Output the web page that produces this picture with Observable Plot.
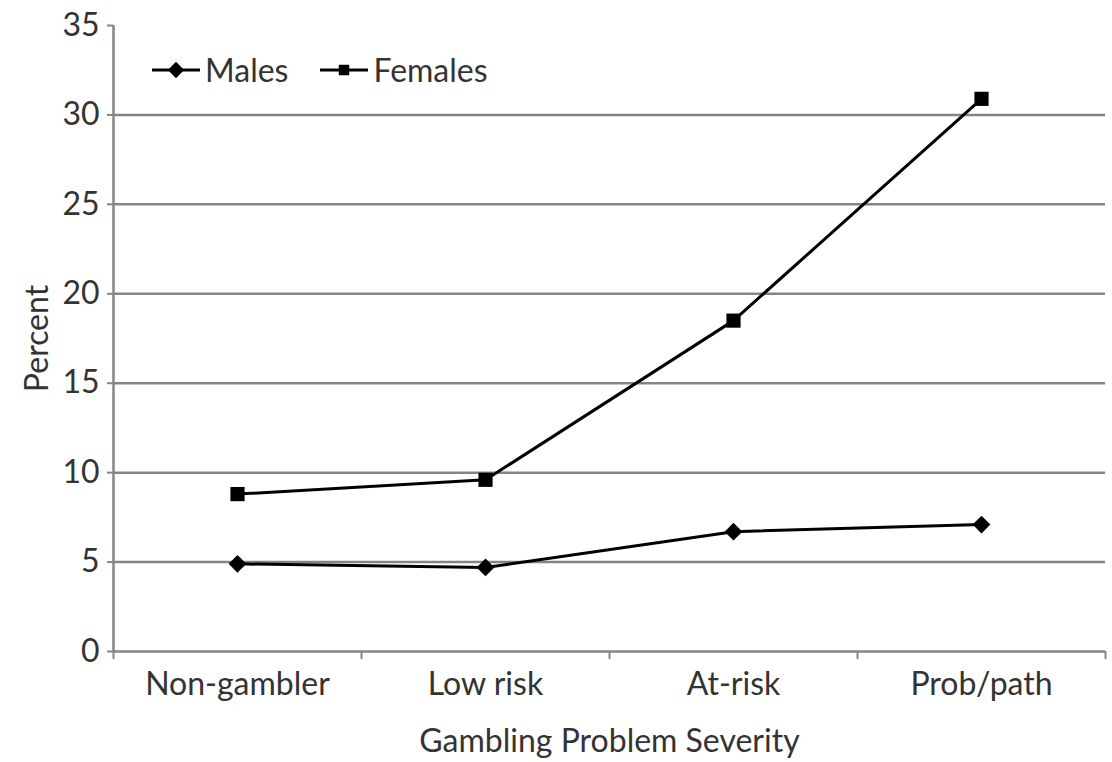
<!DOCTYPE html>
<html>
<head>
<meta charset="utf-8">
<script src="https://cdn.jsdelivr.net/npm/d3@7"></script>
<script src="https://cdn.jsdelivr.net/npm/@observablehq/plot@0.6"></script>
<style>
  body { margin: 0; background: white; }
  #wrap { position: relative; width: 1112px; height: 762px; }
  #legend { position: absolute; left: 152px; top: 50px; display: flex; align-items: center; font-family: Lato, sans-serif; font-size: 32px; color: #333; }
  #legend .item { display: flex; align-items: center; margin-right: 32px; }
  #legend svg { margin-right: 5px; }
</style>
</head>
<body>
<div id="wrap"></div>
<script>
const categories = ["Non-gambler", "Low risk", "At-risk", "Prob/path"];
const males = [4.9, 4.7, 6.7, 7.1];
const females = [8.8, 9.6, 18.5, 30.9];
const yTicks = [0, 5, 10, 15, 20, 25, 30, 35];
const seriesNames = ["Males", "Females"];
const seriesSymbols = ["diamond2", "square"];

const data = [];
categories.forEach((c, i) => {
  data.push({series: "Males", idx: i + 0.5, value: males[i]});
  data.push({series: "Females", idx: i + 0.5, value: females[i]});
});
const centers = categories.map((c, i) => i + 0.5);
const bounds = d3.range(categories.length + 1);

const grid = "#858585";
const chart = Plot.plot({
  width: 1112,
  height: 762,
  marginLeft: 113,
  marginRight: 7,
  marginTop: 25,
  marginBottom: 111,
  style: {fontFamily: "Lato, sans-serif", fontSize: "32px", color: "#333", background: "white"},
  x: {domain: [0, categories.length]},
  y: {domain: [0, 35]},
  symbol: {domain: seriesNames, range: seriesSymbols},
  marks: [
    Plot.ruleY(yTicks.filter(d => d > 0 && d < 35), {stroke: grid, strokeWidth: 2.5}),
    Plot.ruleY([0], {stroke: grid, strokeWidth: 2.5}),
    Plot.ruleX([0], {stroke: grid, strokeWidth: 2.5}),
    Plot.axisY({ticks: yTicks, tickSize: 6, tickPadding: 8, stroke: grid, strokeWidth: 2, label: "Percent", labelArrow: "none", labelAnchor: "center", labelOffset: 88}),
    Plot.axisX({ticks: bounds, tickSize: 8, stroke: grid, strokeWidth: 2, tickFormat: () => "", label: null}),
    Plot.axisX({ticks: centers, tickSize: 0, tickPadding: 21, tickFormat: d => categories[Math.floor(d)], label: "Gambling Problem Severity", labelArrow: "none", labelAnchor: "center", labelOffset: 100}),
    Plot.line(data, {x: "idx", y: "value", z: "series", stroke: "#000", strokeWidth: 3}),
    Plot.dot(data, {x: "idx", y: "value", symbol: "series", fill: "#000", stroke: "none", r: 8})
  ]
});

const wrap = document.getElementById("wrap");
wrap.appendChild(chart);

const legend = document.createElement("div");
legend.id = "legend";
seriesNames.forEach((name, i) => {
  const item = document.createElement("div");
  item.className = "item";
  const sym = d3.symbol(i === 0 ? d3.symbolDiamond2 : d3.symbolSquare, i === 0 ? 170 : 110)();
  item.innerHTML = `<svg width="48" height="22"><line x1="0" y1="11" x2="48" y2="11" stroke="#000" stroke-width="3"/><path d="${sym}" transform="translate(24,11)" fill="#000"/></svg><span>${name}</span>`;
  legend.appendChild(item);
});
wrap.appendChild(legend);
</script>
</body>
</html>
